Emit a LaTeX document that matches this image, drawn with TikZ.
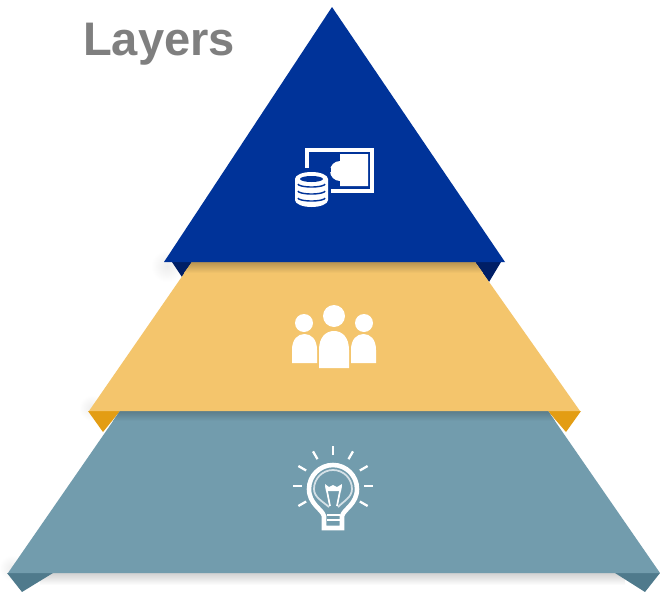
\documentclass[tikz,border=0pt]{standalone}
\usepackage{fontspec}
\setmainfont{Liberation Sans}
\definecolor{layerblue}{HTML}{003399}
\definecolor{foldblue}{HTML}{001F66}
\definecolor{layeryellow}{HTML}{F4C56C}
\definecolor{foldyellow}{HTML}{E39D14}
\definecolor{layerteal}{HTML}{729CAD}
\definecolor{foldteal}{HTML}{4F7A8C}
\definecolor{titlegray}{HTML}{7F7F7F}
\tikzset{
    iconline/.style={draw=white, line width=2.6pt},
    iconthin/.style={draw=white, line width=1pt},
    iconfill/.style={fill=white},
    ray/.style={draw=white, line width=1.3pt},
    glow/.style={inner color=black!7, outer color=white}
}
\begin{document}
\begin{tikzpicture}[x=0.02cm, y=-0.02cm]
    \useasboundingbox (0, 0) rectangle (660, 592);
    \fill[white] (0, 0) rectangle (660, 592);

    % soft shadows on the white ground
    \shade[glow] (167, 266) circle (16);
    \shade[glow] (92, 408) circle (13);
    \shade[glow] (12, 568) circle (13);
    \shade[top color=black!18, bottom color=white] (40, 573) rectangle (625, 585);

    % folds
    \fill[foldblue] (172, 262) -- (192, 262) -- (182, 277) -- cycle;
    \fill[foldblue] (475, 262) -- (501, 262) -- (489, 282) -- cycle;
    \fill[foldyellow] (88, 411) -- (120, 411) -- (103, 432) -- cycle;
    \fill[foldyellow] (548, 411) -- (581, 411) -- (566, 432) -- cycle;
    \fill[foldteal] (7, 573) -- (53, 573) -- (22, 592) -- cycle;
    \fill[foldteal] (615, 573) -- (660, 573) -- (645, 592) -- cycle;

    % layers
    \fill[layerteal] (120, 411) -- (548, 411) -- (660, 573) -- (8, 573) -- cycle;
    \shade[top color=layerteal!80!black, bottom color=layerteal] (120, 411) -- (548, 411) -- (555, 421) -- (113, 421) -- cycle;
    \fill[layeryellow] (192, 262) -- (475, 262) -- (580, 411) -- (89, 411) -- cycle;
    \shade[top color=layeryellow!75!black, bottom color=layeryellow] (192, 262) -- (475, 262) -- (483, 273) -- (184, 273) -- cycle;
    \fill[layerblue] (332, 7) -- (505, 262) -- (164, 262) -- cycle;

    \node[text=titlegray, font=\bfseries\fontsize{26.8}{30}\selectfont] (title) at (159, 44) {Layers};

    % money and coins
    \draw[iconline] (307, 171) -- (307, 150) -- (372, 150) -- (372, 191) -- (331, 191);
    \fill[iconfill] (340, 154) -- (368, 154) -- (368, 186) -- (340, 186) -- (340, 181) arc (90:270:10) -- cycle;
    \fill[layerblue] (292, 168) rectangle (331, 172);
    \fill[iconfill] (295, 179) arc (180:360:16.5 and 7) -- (328, 200) arc (0:180:16.5 and 7) -- cycle;
    \fill[layerblue] (300, 179) arc (180:540:11.5 and 3);
    \foreach \y in {184, 191, 198} {
        \draw[layerblue, line width=0.8pt] (298, \y) arc (180:0:13.5 and 3);
    }

    % people
    \fill[iconfill] (304, 323) circle (9);
    \fill[iconfill] (334, 316) circle (11);
    \fill[iconfill] (364, 323) circle (9);
    \fill[iconfill] (292, 363) -- (292, 350) .. controls (292, 339) and (298, 334) .. (304.5, 334) .. controls (311, 334) and (317, 339) .. (317, 350) -- (317, 363) -- cycle;
    \fill[iconfill] (319, 368) -- (319, 350) .. controls (319, 337) and (326, 331) .. (334, 331) .. controls (342, 331) and (349, 337) .. (349, 350) -- (349, 368) -- cycle;
    \fill[iconfill] (351, 363) -- (351, 350) .. controls (351, 339) and (357, 334) .. (363.5, 334) .. controls (370, 334) and (376, 339) .. (376, 350) -- (376, 363) -- cycle;

    % bulb
    \draw[iconline] (324, 528) -- (324, 516) .. controls (322, 509) and (309, 504) .. (309, 489) arc (180:360:24) .. controls (357, 504) and (344, 509) .. (342, 516) -- (342, 528) -- cycle;
    \draw[iconthin, white!70!layerteal] (329, 507) .. controls (322, 501) and (314, 497) .. (314, 489) arc (180:360:19) .. controls (352, 497) and (344, 501) .. (338, 507);
    \draw[iconthin] (330, 506) -- (326, 486);
    \draw[iconthin] (337, 506) -- (341, 486);
    \fill[iconfill] (325, 484) -- (329, 487) -- (333, 485) -- (337, 487) -- (342, 484) -- (341, 491) -- (326, 491) -- cycle;
    \draw[iconthin] (327, 515) -- (340, 515);
    \draw[iconthin] (327, 520) -- (340, 520);
    \foreach \a in {-30, 0, 30, 60, 90, 120, 150, 180, 210} {
        \draw[ray] ({333 + 31*cos(\a)}, {486 - 31*sin(\a)}) -- ({333 + 40*cos(\a)}, {486 - 40*sin(\a)});
    }
\end{tikzpicture}
\end{document}
